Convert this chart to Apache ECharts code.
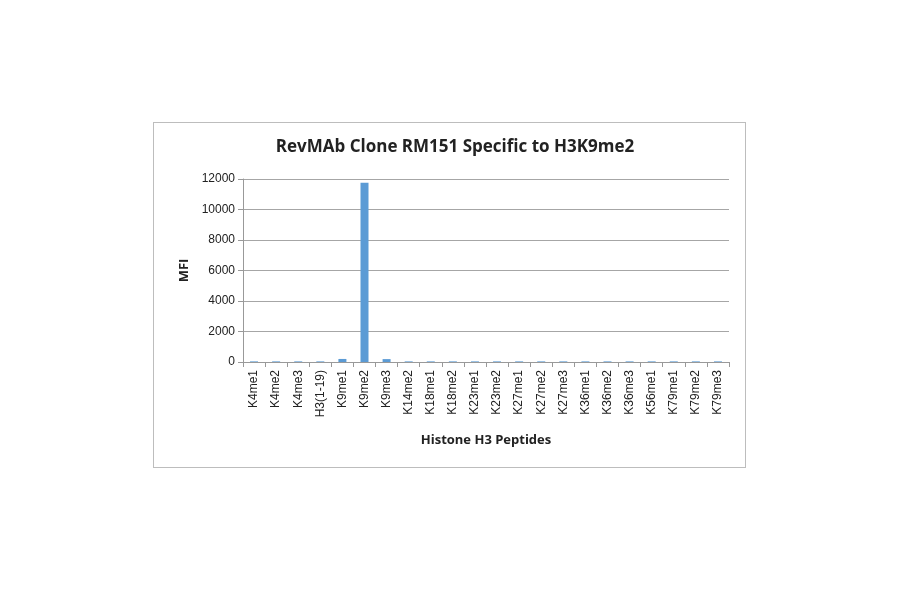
<!DOCTYPE html>
<html><head><meta charset="utf-8">
<script src="https://cdn.jsdelivr.net/npm/echarts@6/dist/echarts.min.js"></script>
<style>html,body{margin:0;padding:0;background:#fff}#c{width:900px;height:594px}
#box{position:absolute;left:153px;top:122px;width:593px;height:346px;border:1px solid #bdbdbd;box-sizing:border-box}</style>
</head><body><div id="box"></div><div id="c" style="position:absolute;left:0;top:0"></div>
<script>
const categories = ["K4me1","K4me2","K4me3","H3(1-19)","K9me1","K9me2","K9me3","K14me2","K18me1","K18me2","K23me1","K23me2","K27me1","K27me2","K27me3","K36me1","K36me2","K36me3","K56me1","K79me1","K79me2","K79me3"];
const mfi = [40,40,40,40,200,11750,190,40,40,40,40,40,40,40,40,40,40,40,40,40,40,40];
const yTicks = [0,2000,4000,6000,8000,10000,12000];
const chart = echarts.init(document.getElementById('c'));
const f = '"Liberation Sans", Arial, sans-serif';
chart.setOption({
  title:{text:'RevMAb Clone RM151 Specific to H3K9me2',left:450,top:134,textAlign:'center',textStyle:{fontFamily:'"Open Sans", sans-serif',fontSize:17,fontWeight:'bold',color:'#222'}},
  grid:{left:243,right:171,top:179,bottom:232},
  xAxis:{type:'category',data:categories,name:'Histone H3 Peptides',nameLocation:'middle',nameGap:72,
    nameTextStyle:{fontFamily:'"Open Sans", sans-serif',fontSize:13,fontWeight:'bold',color:'#222'},
    axisLine:{lineStyle:{color:'#999'}},axisTick:{show:true,interval:0,alignWithLabel:false,lineStyle:{color:'#999'}},
    axisLabel:{interval:0,rotate:90,fontFamily:f,fontSize:12,color:'#222'}},
  yAxis:{type:'value',min:0,max:12000,interval:2000,name:'MFI',nameLocation:'middle',nameGap:48,
    nameTextStyle:{fontFamily:'"Open Sans", sans-serif',fontSize:13,fontWeight:'bold',color:'#222'},
    axisLine:{show:true,lineStyle:{color:'#999'}},axisTick:{show:true,lineStyle:{color:'#999'}},
    axisLabel:{fontFamily:f,fontSize:12,color:'#222',formatter:v=>yTicks.includes(v)?String(v):''},
    splitLine:{lineStyle:{color:'#a6a6a6'}}},
  series:[{type:'bar',data:mfi,barWidth:8,itemStyle:{color:'#5b9bd5'}}]
});
</script></body></html>
